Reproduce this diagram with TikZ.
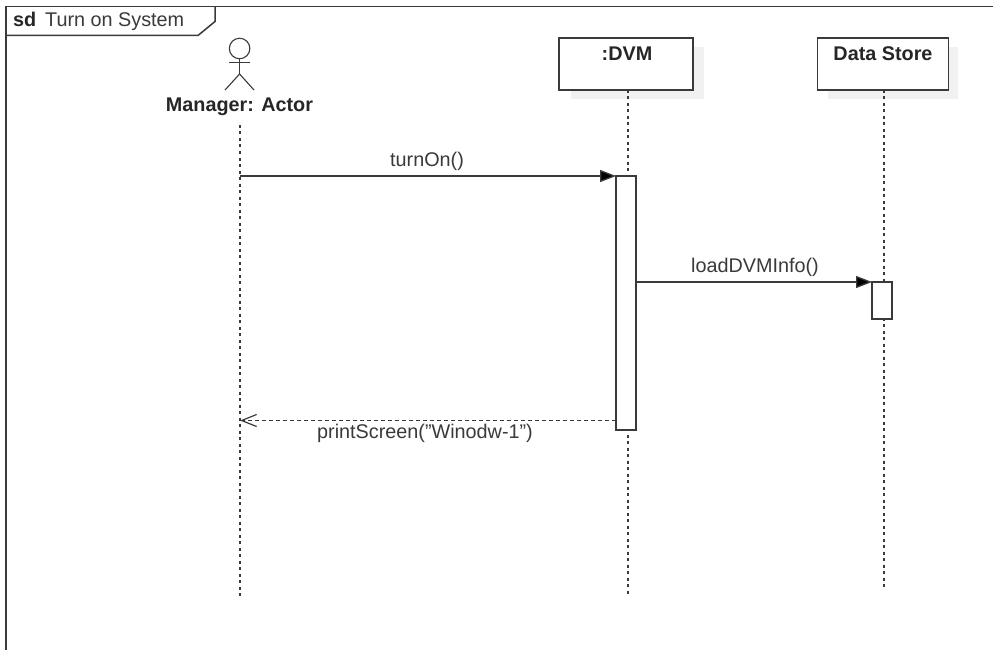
\documentclass[tikz,border=0pt]{standalone}
\usepackage{fontspec}
\setmainfont{Liberation Sans}
\usetikzlibrary{arrows.meta}
\definecolor{ink}{HTML}{3A3A3A}
\definecolor{shade}{HTML}{F1F1F1}
\tikzset{
  x=1pt,y=-1pt,
  frameline/.style={draw=ink,line width=1.5pt},
  objbox/.style={draw=ink,line width=1.3pt,fill=white,minimum width=#1,minimum height=52pt,inner sep=0pt,outer sep=0pt},
  shadowbox/.style={fill=shade,draw=none,minimum width=#1,minimum height=52pt,inner sep=0pt},
  activation/.style={draw=ink,line width=1.3pt,fill=white,minimum width=20pt,minimum height=#1,inner sep=0pt,outer sep=0pt},
  lifeline/.style={draw=ink,line width=1.3pt,dash pattern=on 3pt off 3.5pt},
  syncmsg/.style={draw=ink,line width=1.3pt,-{Triangle[length=16pt,width=12pt,fill=black]}},
  returnmsg/.style={draw=ink,line width=1.2pt,dash pattern=on 4pt off 3pt,-{Straight Barb[length=15pt,width=12pt,line width=1.2pt]}},
  msglabel/.style={text=ink,font=\fontsize{19.8}{22}\selectfont,inner sep=0pt},
  objlabel/.style={text=black!85,font=\fontsize{19.8}{22}\bfseries\selectfont,inner sep=0pt},
  actorline/.style={draw=ink,line width=1.1pt},
}
\begin{document}
\begin{tikzpicture}
\useasboundingbox (0,0) rectangle (993,650);
\fill[white] (0,0) rectangle (993,650);
% frame
\draw[frameline] (6,650) -- (6,6.5) -- (993,6.5);
\draw[frameline] (6,35.5) -- (198,35.5) -- (215,21.5) -- (215,6.5);
\node[anchor=base west,inner sep=0pt,text=black!85,font=\fontsize{19.8}{22}\bfseries\selectfont] (sdtag) at (13,27) {sd};
\node[anchor=base west,msglabel] (sdname) at (45,27) {Turn on System};
% actor
\node[circle,actorline,minimum size=20.5pt,inner sep=0pt,outer sep=0pt] (head) at (239.6,48.5) {};
\coordinate (hip) at (239.6,74);
\draw[actorline] (head.south) -- (hip);
\draw[actorline] (229,62.5) -- (250,62.5);
\draw[actorline] (225,90) -- (hip) -- (254,90);
\node[objlabel] (manager) at (239.5,107) {Manager: Actor};
% objects
\node[shadowbox=133pt] (dvmshadow) at (637,73) {};
\node[shadowbox=130pt] (storeshadow) at (893,73) {};
\node[objbox=134pt] (dvm) at (626,64) {};
\node[objlabel] (dvmtext) at (627,54) {:DVM};
\node[objbox=131pt] (store) at (883,64) {};
\node[objlabel] (storetext) at (883,54) {Data Store};
% lifeline ends
\coordinate (mgrtop) at (240,125);
\coordinate (mgrend) at (240,598);
\coordinate (dvmtop) at (628,90);
\coordinate (dvmend) at (628,596);
\coordinate (storetop) at (884,90);
\coordinate (storeend) at (884,588);
\draw[lifeline] (mgrtop) -- (mgrend);
\draw[lifeline] (dvmtop) -- (dvmend);
\draw[lifeline] (storetop) -- (storeend);
% activations
\node[activation=254pt] (dvmact) at (626,303) {};
\node[activation=37pt] (storeact) at (882,300.5) {};
% messages
\coordinate (mgr1) at (240,176);
\coordinate (mgr2) at (240,420.5);
\draw[syncmsg] (mgr1) -- (dvmact.north west);
\draw[syncmsg] (dvmact.east |- storeact.north) -- (storeact.north west);
\draw[returnmsg] (dvmact.west |- mgr2) -- (mgr2);
\node[msglabel] (m1) at (427,161) {turnOn()};
\node[msglabel] (m2) at (755,267) {loadDVMInfo()};
\node[msglabel] (m3) at (425,433) {printScreen(\char34 Winodw-1\char34 )};
\end{tikzpicture}
\end{document}
